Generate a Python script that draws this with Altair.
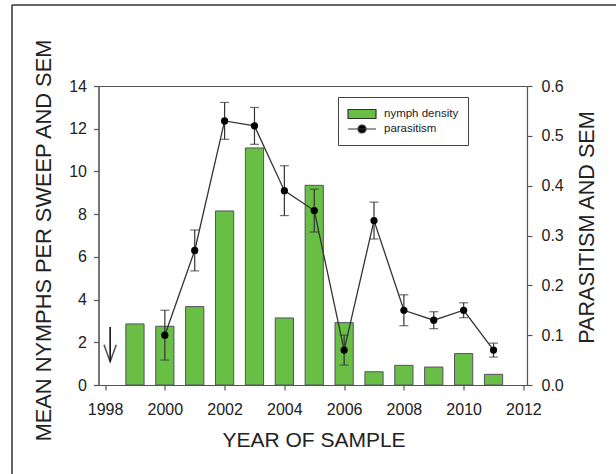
import altair as alt
import pandas as pd

# ---- data ----
years = [1999, 2000, 2001, 2002, 2003, 2004, 2005, 2006, 2007, 2008, 2009, 2010, 2011]
nymph_density = [2.86, 2.75, 3.67, 8.15, 11.1, 3.14, 9.35, 2.92, 0.62, 0.92, 0.84, 1.47, 0.5]

par_years = [2000, 2001, 2002, 2003, 2004, 2005, 2006, 2007, 2008, 2009, 2010, 2011]
parasitism = [0.10, 0.27, 0.53, 0.52, 0.39, 0.35, 0.07, 0.33, 0.15, 0.13, 0.15, 0.07]
par_sem = [0.05, 0.041, 0.037, 0.037, 0.05, 0.043, 0.03, 0.037, 0.031, 0.017, 0.015, 0.014]

arrow_year = [1998.17]
arrow_top = [2.72]
arrow_tip = [1.09]

series_names = ["nymph density", "parasitism"]
x_ticks = [1998, 2000, 2002, 2004, 2006, 2008, 2010, 2012]
left_ticks = [0, 2, 4, 6, 8, 10, 12, 14]
right_ticks = [0.0, 0.1, 0.2, 0.3, 0.4, 0.5, 0.6]

FONT = "Liberation Sans"
GREEN = "#69be45"
DARK = "#333333"
AXC = "#555555"

bars_df = pd.DataFrame({"year": years, "density": nymph_density})
par_df = pd.DataFrame({"year": par_years, "par": parasitism, "sem": par_sem})
arrow_df = pd.DataFrame({"year": arrow_year, "top": arrow_top, "tip": arrow_tip})
legend_df = pd.DataFrame({"series": series_names})
frame_df = pd.DataFrame({"k": [0]})

xscale = alt.Scale(domain=[1997.78, 2012.12], nice=False, zero=False)
xaxis = alt.Axis(values=x_ticks, format="d", title="YEAR OF SAMPLE", grid=False,
                 tickSize=5, labelPadding=11, titleX=215, titleY=55.5,
                 titleBaseline="middle", titleFontSize=21, titleFontWeight="normal")
lscale = alt.Scale(domain=[0, 14], nice=False)
laxis = alt.Axis(values=left_ticks, format="d", title="MEAN NYMPHS PER SWEEP AND SEM",
                 grid=False, tickSize=5, labelPadding=7, titleX=-55.5, titleY=154,
                 titleAngle=270, titleBaseline="middle", titleFontSize=21.8,
                 titleFontWeight="normal")
rscale = alt.Scale(domain=[0, 0.6], nice=False)
raxis = alt.Axis(values=right_ticks, format=".1f", title="PARASITISM AND SEM", orient="right",
                 grid=False, tickSize=5, labelPadding=9, titleX=60.5, titleY=141,
                 titleAngle=270, titleBaseline="middle", titleFontSize=21.6,
                 titleFontWeight="normal")

bars = alt.Chart(bars_df).transform_calculate(
    x0="datum.year - 0.305", x1="datum.year + 0.305"
).mark_bar(fill=GREEN, stroke="#555060", strokeWidth=1).encode(
    x=alt.X("x0:Q", scale=xscale, axis=xaxis),
    x2="x1:Q",
    y=alt.Y("density:Q", scale=lscale, axis=laxis),
    y2=alt.datum(0),
)

arrow_shaft = alt.Chart(arrow_df).mark_rule(color="#111111", strokeWidth=1.6).encode(
    x=alt.X("year:Q", scale=xscale),
    y=alt.Y("top:Q", scale=lscale),
    y2="tip:Q",
)
arrow_head = alt.Chart(arrow_df).mark_point(
    shape="M-0.36,-1L0,0L0.36,-1", filled=False, size=1156, color="#111111",
    strokeWidth=1.6,
).encode(
    x=alt.X("year:Q", scale=xscale),
    y=alt.Y("tip:Q", scale=lscale),
)

left = alt.layer(bars, arrow_shaft, arrow_head)

base_r = alt.Chart(par_df).transform_calculate(
    lo="datum.par - datum.sem", hi="datum.par + datum.sem"
)
err = base_r.mark_rule(color=DARK, strokeWidth=1.2).encode(
    x=alt.X("year:Q", scale=xscale),
    y=alt.Y("lo:Q", scale=rscale, axis=raxis),
    y2="hi:Q",
)
cap_lo = base_r.mark_tick(color=DARK, orient="horizontal", size=9, thickness=1.2).encode(
    x=alt.X("year:Q", scale=xscale),
    y=alt.Y("lo:Q", scale=rscale, axis=raxis),
)
cap_hi = base_r.mark_tick(color=DARK, orient="horizontal", size=9, thickness=1.2).encode(
    x=alt.X("year:Q", scale=xscale),
    y=alt.Y("hi:Q", scale=rscale, axis=raxis),
)
line = base_r.mark_line(color=DARK, strokeWidth=1.3).encode(
    x=alt.X("year:Q", scale=xscale),
    y=alt.Y("par:Q", scale=rscale, axis=raxis),
)
pts = base_r.mark_circle(color="#000000", size=52, opacity=1).encode(
    x=alt.X("year:Q", scale=xscale),
    y=alt.Y("par:Q", scale=rscale, axis=raxis),
)
right = alt.layer(err, cap_lo, cap_hi, line, pts)

BAR_SYM = "M-1,-0.643H3V0.643H-1Z"
LINE_SYM = "M-1,0H3M1.571,0A0.571,0.571,0,1,1,0.429,0A0.571,0.571,0,1,1,1.571,0Z"

legend_layer = alt.Chart(legend_df).mark_point(
    filled=True, size=0, stroke=DARK, strokeWidth=1.2, opacity=1
).encode(
    x=alt.value(0),
    y=alt.value(0),
    color=alt.Color("series:N", scale=alt.Scale(domain=series_names, range=[GREEN, "#000000"]),
                    legend=alt.Legend(title=None, orient="none", legendX=239.5, legendY=11,
                                      symbolSize=196, labelOffset=21, padding=9,
                                      rowPadding=0, strokeColor="#444444",
                                      fillColor="white", labelFontSize=11.5,
                                      labelFont=FONT, labelColor="#222222",
                                      symbolStrokeColor=DARK, symbolStrokeWidth=1.2)),
    shape=alt.Shape("series:N", scale=alt.Scale(domain=series_names, range=[BAR_SYM, LINE_SYM]),
                    legend=alt.Legend(title=None, orient="none", legendX=239.5, legendY=11)),
)

frame_top = alt.Chart(frame_df).mark_rule(color=DARK, strokeWidth=1.5).encode(
    x=alt.value(-86.5), x2=alt.value(530), y=alt.value(-81)
)
frame_left = alt.Chart(frame_df).mark_rule(color=DARK, strokeWidth=1.5).encode(
    x=alt.value(-86.5), y=alt.value(-81), y2=alt.value(400)
)

chart = alt.layer(left, right, legend_layer, frame_top, frame_left).resolve_scale(
    y="independent"
).properties(
    width=428.5, height=299,
    autosize=alt.AutoSizeParams(type="none"),
    padding={"left": 98.5, "top": 86, "right": 89, "bottom": 89},
    background="white",
).configure_view(
    stroke=AXC, strokeWidth=1
).configure_axis(
    labelFont=FONT, titleFont=FONT, labelFontSize=16, labelColor="#222222",
    titleColor="#222222", domainColor=AXC, tickColor=AXC, domainWidth=1.2, tickWidth=1.2,
)

chart.save("out.html", embed_options={"renderer": "svg", "actions": False})
